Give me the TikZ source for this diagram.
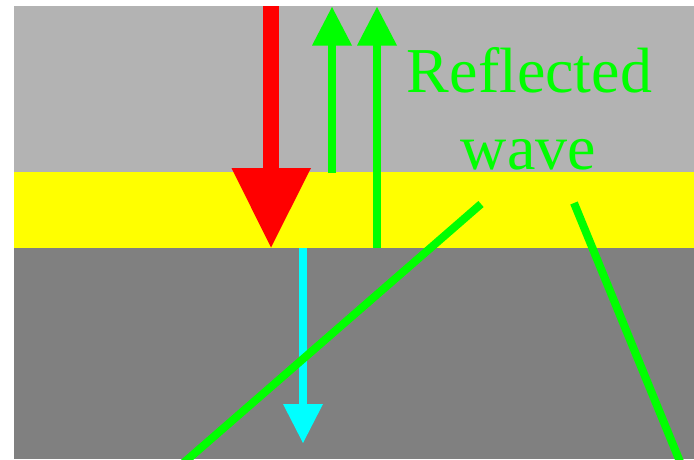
\documentclass[tikz,border=0pt]{standalone}
\usepackage{fontspec}
\setmainfont{Liberation Serif}
\definecolor{lgray}{HTML}{B3B3B3}
\definecolor{dgray}{HTML}{808080}
\definecolor{wgreen}{HTML}{00FF00}
\definecolor{wred}{HTML}{FF0000}
\definecolor{wcyan}{HTML}{00FFFF}
\definecolor{wyellow}{HTML}{FFFF00}
\begin{document}
\begin{tikzpicture}[x=1pt,y=-1pt,
  wavetext/.style={text=wgreen,inner sep=0pt,font=\fontsize{64}{76}\selectfont,anchor=base},
  ray/.style={draw=wgreen,line width=8pt}]
\useasboundingbox (0,0) rectangle (694,459);
\fill[white] (0,0) rectangle (694,459);
% layers
\fill[lgray] (14,6) rectangle (694,172);
\fill[wyellow] (14,172) rectangle (694,247.5);
\fill[dgray] (14,247.5) rectangle (694,459);
% incident red arrow
\fill[wred] (263,6) rectangle (279,169);
\fill[wred] (231.5,168) -- (311,168) -- (271,247.5) -- cycle;
% reflected green arrows
\fill[wgreen] (328,44) rectangle (336,172.5);
\fill[wgreen] (312,45.5) -- (352,45.5) -- (332,7) -- cycle;
\fill[wgreen] (373,44) rectangle (381,247.5);
\fill[wgreen] (357,45.5) -- (397,45.5) -- (377,7) -- cycle;
% transmitted cyan arrow
\fill[wcyan] (299,247.5) rectangle (307,405);
\fill[wcyan] (283,404) -- (323,404) -- (303,443) -- cycle;
% oblique green lines
\begin{scope}
\clip (14,6) rectangle (694,459);
\coordinate (l1a) at (481,204);
\coordinate (l1b) at (176,469.5);
\coordinate (l2a) at (574,203);
\coordinate (l2b) at (683,469);
\draw[ray] (l1a) -- (l1b);
\draw[ray] (l2a) -- (l2b);
\end{scope}
% label
\node[wavetext] (refl1) at (529.5,92.7) {Reflected};
\node[wavetext] (refl2) at (528.5,169) {wave};
\end{tikzpicture}
\end{document}
